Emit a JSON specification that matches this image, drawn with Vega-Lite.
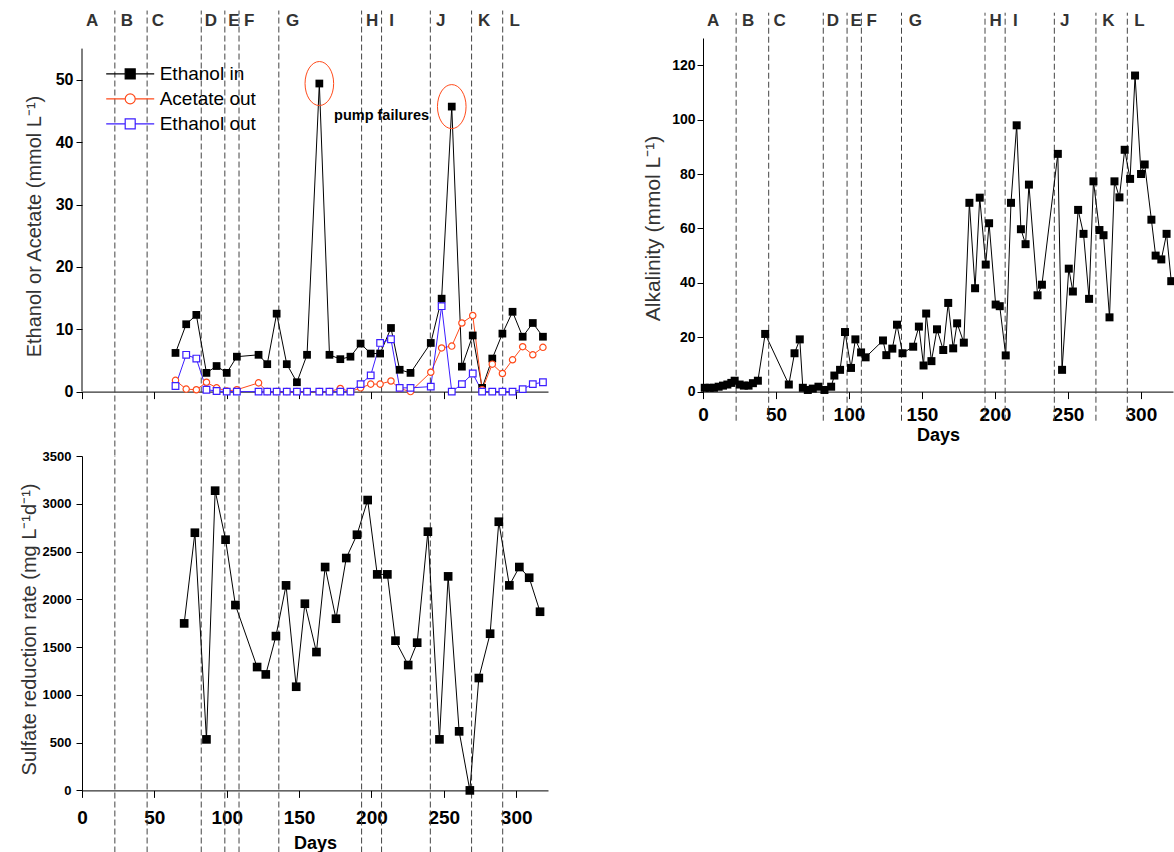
{
  "$schema": "https://vega.github.io/schema/vega-lite/v6.json",
  "background": "white",
  "padding": {"left": 19, "top": 10, "right": 0, "bottom": 0},
  "config": {
    "view": {"stroke": null},
    "font": "Liberation Sans",
    "axis": {"grid": false, "domainColor": "#000", "tickColor": "#000", "labelColor": "#000", "labelFont": "Liberation Sans", "labelFontWeight": "bold", "titleFont": "Liberation Sans", "titleFontWeight": "normal", "titleColor": "#333", "labelOverlap": false, "labelFlush": false, "domainWidth": 1, "tickWidth": 1}
  },
  "datasets": {
    "phases": [{"day": 22.7}, {"day": 45}, {"day": 82.4}, {"day": 98.7}, {"day": 108.5}, {"day": 136}, {"day": 193.2}, {"day": 207}, {"day": 240.7}, {"day": 269.2}, {"day": 290.7}],
    "letters": [{"label": "A", "mid": 7}, {"label": "B", "mid": 31}, {"label": "C", "mid": 52.5}, {"label": "D", "mid": 89}, {"label": "E", "mid": 105}, {"label": "F", "mid": 115.5}, {"label": "G", "mid": 145.5}, {"label": "H", "mid": 200.5}, {"label": "I", "mid": 214}, {"label": "J", "mid": 247.8}, {"label": "K", "mid": 277.8}, {"label": "L", "mid": 299}],
    "conc": [
      {"series": "Ethanol in", "day": 64.6, "value": 6.2}, {"series": "Ethanol in", "day": 72, "value": 10.8}, {"series": "Ethanol in", "day": 79, "value": 12.3}, {"series": "Ethanol in", "day": 86, "value": 3.0}, {"series": "Ethanol in", "day": 93, "value": 4.1}, {"series": "Ethanol in", "day": 100, "value": 3.0}, {"series": "Ethanol in", "day": 107, "value": 5.6}, {"series": "Ethanol in", "day": 122, "value": 5.9}, {"series": "Ethanol in", "day": 128, "value": 4.4}, {"series": "Ethanol in", "day": 134.5, "value": 12.5}, {"series": "Ethanol in", "day": 141.5, "value": 4.4}, {"series": "Ethanol in", "day": 148.5, "value": 1.5}, {"series": "Ethanol in", "day": 155.5, "value": 5.9}, {"series": "Ethanol in", "day": 164, "value": 49.4}, {"series": "Ethanol in", "day": 171, "value": 5.9}, {"series": "Ethanol in", "day": 178.5, "value": 5.2}, {"series": "Ethanol in", "day": 185.5, "value": 5.6}, {"series": "Ethanol in", "day": 192.5, "value": 7.7}, {"series": "Ethanol in", "day": 199.5, "value": 6.1}, {"series": "Ethanol in", "day": 206, "value": 6.1}, {"series": "Ethanol in", "day": 213.5, "value": 10.2}, {"series": "Ethanol in", "day": 219.5, "value": 3.5}, {"series": "Ethanol in", "day": 227, "value": 3.0}, {"series": "Ethanol in", "day": 241, "value": 7.8}, {"series": "Ethanol in", "day": 248.5, "value": 14.9}, {"series": "Ethanol in", "day": 255.5, "value": 45.7}, {"series": "Ethanol in", "day": 262.5, "value": 4.0}, {"series": "Ethanol in", "day": 270, "value": 9.0}, {"series": "Ethanol in", "day": 276.5, "value": 0.6}, {"series": "Ethanol in", "day": 283.5, "value": 5.3}, {"series": "Ethanol in", "day": 290.5, "value": 9.3}, {"series": "Ethanol in", "day": 297.5, "value": 12.8}, {"series": "Ethanol in", "day": 304.5, "value": 8.8}, {"series": "Ethanol in", "day": 311.5, "value": 11.0}, {"series": "Ethanol in", "day": 318.5, "value": 8.8},
      {"series": "Acetate out", "day": 64.6, "value": 1.8}, {"series": "Acetate out", "day": 72, "value": 0.4}, {"series": "Acetate out", "day": 79, "value": 0.3}, {"series": "Acetate out", "day": 86, "value": 1.5}, {"series": "Acetate out", "day": 93, "value": 0.6}, {"series": "Acetate out", "day": 100, "value": 0.1}, {"series": "Acetate out", "day": 107, "value": 0.3}, {"series": "Acetate out", "day": 122, "value": 1.4}, {"series": "Acetate out", "day": 128, "value": 0}, {"series": "Acetate out", "day": 134.5, "value": 0}, {"series": "Acetate out", "day": 141.5, "value": 0}, {"series": "Acetate out", "day": 148.5, "value": 0}, {"series": "Acetate out", "day": 155.5, "value": 0}, {"series": "Acetate out", "day": 164, "value": 0}, {"series": "Acetate out", "day": 171, "value": 0}, {"series": "Acetate out", "day": 178.5, "value": 0.5}, {"series": "Acetate out", "day": 185.5, "value": 0}, {"series": "Acetate out", "day": 192.5, "value": 0.6}, {"series": "Acetate out", "day": 199.5, "value": 1.2}, {"series": "Acetate out", "day": 206, "value": 1.2}, {"series": "Acetate out", "day": 213.5, "value": 1.7}, {"series": "Acetate out", "day": 219.5, "value": 0.5}, {"series": "Acetate out", "day": 227, "value": 0}, {"series": "Acetate out", "day": 241, "value": 3.1}, {"series": "Acetate out", "day": 248.5, "value": 7.0}, {"series": "Acetate out", "day": 255.5, "value": 7.3}, {"series": "Acetate out", "day": 262.5, "value": 11.0}, {"series": "Acetate out", "day": 270, "value": 12.2}, {"series": "Acetate out", "day": 276.5, "value": 0.3}, {"series": "Acetate out", "day": 283.5, "value": 4.4}, {"series": "Acetate out", "day": 290.5, "value": 2.9}, {"series": "Acetate out", "day": 297.5, "value": 5.1}, {"series": "Acetate out", "day": 304.5, "value": 7.2}, {"series": "Acetate out", "day": 311.5, "value": 5.9}, {"series": "Acetate out", "day": 318.5, "value": 7.1},
      {"series": "Ethanol out", "day": 64.6, "value": 0.9}, {"series": "Ethanol out", "day": 72, "value": 5.9}, {"series": "Ethanol out", "day": 79, "value": 5.3}, {"series": "Ethanol out", "day": 86, "value": 0.3}, {"series": "Ethanol out", "day": 93, "value": 0.1}, {"series": "Ethanol out", "day": 100, "value": 0}, {"series": "Ethanol out", "day": 107, "value": 0}, {"series": "Ethanol out", "day": 122, "value": 0}, {"series": "Ethanol out", "day": 128, "value": 0}, {"series": "Ethanol out", "day": 134.5, "value": 0}, {"series": "Ethanol out", "day": 141.5, "value": 0}, {"series": "Ethanol out", "day": 148.5, "value": 0}, {"series": "Ethanol out", "day": 155.5, "value": 0}, {"series": "Ethanol out", "day": 164, "value": 0}, {"series": "Ethanol out", "day": 171, "value": 0}, {"series": "Ethanol out", "day": 178.5, "value": 0}, {"series": "Ethanol out", "day": 185.5, "value": 0}, {"series": "Ethanol out", "day": 192.5, "value": 1.2}, {"series": "Ethanol out", "day": 199.5, "value": 2.6}, {"series": "Ethanol out", "day": 206, "value": 7.8}, {"series": "Ethanol out", "day": 213.5, "value": 8.4}, {"series": "Ethanol out", "day": 219.5, "value": 0.6}, {"series": "Ethanol out", "day": 227, "value": 0.6}, {"series": "Ethanol out", "day": 241, "value": 0.8}, {"series": "Ethanol out", "day": 248.5, "value": 13.7}, {"series": "Ethanol out", "day": 255.5, "value": 0}, {"series": "Ethanol out", "day": 262.5, "value": 1.2}, {"series": "Ethanol out", "day": 270, "value": 2.9}, {"series": "Ethanol out", "day": 276.5, "value": 0}, {"series": "Ethanol out", "day": 283.5, "value": 0}, {"series": "Ethanol out", "day": 290.5, "value": 0}, {"series": "Ethanol out", "day": 297.5, "value": 0}, {"series": "Ethanol out", "day": 304.5, "value": 0.4}, {"series": "Ethanol out", "day": 311.5, "value": 1.2}, {"series": "Ethanol out", "day": 318.5, "value": 1.5}
    ],
    "srr": [
      {"day": 70.6, "rate": 1748}, {"day": 78, "rate": 2697}, {"day": 86, "rate": 534}, {"day": 92, "rate": 3137}, {"day": 99.2, "rate": 2624}, {"day": 106, "rate": 1940}, {"day": 121, "rate": 1291}, {"day": 127, "rate": 1214}, {"day": 134, "rate": 1615}, {"day": 141, "rate": 2146}, {"day": 148, "rate": 1085}, {"day": 154, "rate": 1954}, {"day": 162, "rate": 1448}, {"day": 168, "rate": 2338}, {"day": 175.5, "rate": 1797}, {"day": 182.6, "rate": 2432}, {"day": 190, "rate": 2676}, {"day": 197.4, "rate": 3039}, {"day": 204, "rate": 2261}, {"day": 211, "rate": 2261}, {"day": 216.6, "rate": 1567}, {"day": 225.4, "rate": 1312}, {"day": 231.6, "rate": 1546}, {"day": 239, "rate": 2708}, {"day": 247, "rate": 534}, {"day": 253, "rate": 2240}, {"day": 260.6, "rate": 618}, {"day": 268, "rate": 0}, {"day": 274.2, "rate": 1176}, {"day": 282, "rate": 1640}, {"day": 288, "rate": 2812}, {"day": 295.3, "rate": 2146}, {"day": 302.2, "rate": 2338}, {"day": 309, "rate": 2226}, {"day": 316.5, "rate": 1870}
    ],
    "alk": [
      {"day": 1.2, "alk": 1.4}, {"day": 4.6, "alk": 1.4}, {"day": 7.5, "alk": 1.4}, {"day": 10.7, "alk": 1.8}, {"day": 13.7, "alk": 2.2}, {"day": 16.7, "alk": 2.6}, {"day": 19.4, "alk": 3.2}, {"day": 21.7, "alk": 4.0}, {"day": 25.1, "alk": 2.6}, {"day": 28, "alk": 2.2}, {"day": 31.2, "alk": 2.2}, {"day": 34.2, "alk": 3.1}, {"day": 37.6, "alk": 4.0}, {"day": 42.6, "alk": 21.2}, {"day": 58.8, "alk": 2.6}, {"day": 62.7, "alk": 14.1}, {"day": 66.3, "alk": 19.2}, {"day": 68.4, "alk": 1.4}, {"day": 71.8, "alk": 0.6}, {"day": 75.2, "alk": 1.1}, {"day": 79.1, "alk": 1.8}, {"day": 83.2, "alk": 0.6}, {"day": 87.8, "alk": 1.8}, {"day": 90, "alk": 5.9}, {"day": 93.9, "alk": 8.0}, {"day": 97.3, "alk": 21.9}, {"day": 101.4, "alk": 8.7}, {"day": 104.4, "alk": 19.2}, {"day": 108.3, "alk": 14.4}, {"day": 111.4, "alk": 12.6}, {"day": 123.3, "alk": 18.8}, {"day": 125.6, "alk": 13.4}, {"day": 129.7, "alk": 15.8}, {"day": 132.9, "alk": 24.6}, {"day": 136.7, "alk": 14.1}, {"day": 144, "alk": 16.5}, {"day": 147.9, "alk": 23.9}, {"day": 151.1, "alk": 9.6}, {"day": 152.9, "alk": 28.7}, {"day": 156.5, "alk": 11.2}, {"day": 160.3, "alk": 22.9}, {"day": 164.6, "alk": 15.3}, {"day": 168, "alk": 32.6}, {"day": 171.4, "alk": 15.9}, {"day": 174.1, "alk": 25.1}, {"day": 178.7, "alk": 18.0}, {"day": 182.5, "alk": 69.4}, {"day": 186.4, "alk": 38.0}, {"day": 189.6, "alk": 71.3}, {"day": 193.7, "alk": 46.7}, {"day": 196, "alk": 61.9}, {"day": 200.5, "alk": 32.0}, {"day": 203.3, "alk": 31.4}, {"day": 207.4, "alk": 13.3}, {"day": 211, "alk": 69.4}, {"day": 214.9, "alk": 97.9}, {"day": 217.8, "alk": 59.7}, {"day": 221, "alk": 54.2}, {"day": 223.3, "alk": 76.1}, {"day": 229.2, "alk": 35.4}, {"day": 232.2, "alk": 39.3}, {"day": 243.1, "alk": 87.4}, {"day": 246, "alk": 8.0}, {"day": 250.6, "alk": 45.2}, {"day": 253.4, "alk": 36.8}, {"day": 257, "alk": 66.8}, {"day": 260.7, "alk": 58.0}, {"day": 264.5, "alk": 34.1}, {"day": 267.5, "alk": 77.3}, {"day": 271.6, "alk": 59.4}, {"day": 274.4, "alk": 57.5}, {"day": 278.5, "alk": 27.3}, {"day": 281.9, "alk": 77.3}, {"day": 285.3, "alk": 71.4}, {"day": 288.9, "alk": 88.9}, {"day": 292.6, "alk": 78.2}, {"day": 296, "alk": 116.2}, {"day": 300.1, "alk": 80.0}, {"day": 302.6, "alk": 83.5}, {"day": 307.2, "alk": 63.2}, {"day": 310.1, "alk": 50.0}, {"day": 314, "alk": 48.6}, {"day": 317.6, "alk": 58.0}, {"day": 320.8, "alk": 40.6}
    ]
  },
  "spacing": 93,
  "hconcat": [
    {
      "vconcat": [
        {
          "width": 466,
          "height": 353.6,
          "layer": [
            {
              "data": {"name": "phases"},
              "mark": {"type": "rule", "strokeDash": [6, 3], "color": "#444", "strokeWidth": 1},
              "encoding": {
                "x": {"field": "day", "type": "quantitative", "scale": {"domain": [0, 322]}},
                "y": {"datum": -10.25, "type": "quantitative", "scale": {"domain": [0, 56.7]}},
                "y2": {"datum": 61.1}
              }
            },
            {
              "data": {"values": [{}]},
              "mark": {"type": "rule", "color": "#000", "strokeWidth": 1},
              "encoding": {
                "x": {"datum": 0, "type": "quantitative", "scale": {"domain": [0, 322]}},
                "y": {"datum": 0, "type": "quantitative", "scale": {"domain": [0, 56.7]}},
                "y2": {"datum": 55}
              }
            },
            {
              "data": {"name": "letters"},
              "mark": {"type": "text", "font": "Liberation Sans", "fontWeight": "bold", "fontSize": 17, "color": "#333", "align": "center", "baseline": "middle"},
              "encoding": {
                "x": {"field": "mid", "type": "quantitative", "scale": {"domain": [0, 322]}},
                "y": {"datum": 59.4, "type": "quantitative", "scale": {"domain": [0, 56.7]}},
                "text": {"field": "label"}
              }
            },
            {
              "data": {"name": "conc"},
              "mark": {"type": "line", "strokeWidth": 1},
              "encoding": {
                "x": {"field": "day", "type": "quantitative", "scale": {"domain": [0, 322]},
                  "axis": {"title": null, "labels": false, "values": [0, 25, 50, 75, 100, 125, 150, 175, 200, 225, 250, 275, 300], "tickSize": {"condition": {"test": "datum.value % 50 === 0", "value": 7}, "value": 4}}},
                "y": {"field": "value", "type": "quantitative", "scale": {"domain": [0, 56.7]},
                  "axis": {"title": "Ethanol or Acetate (mmol L⁻¹)", "titleFontSize": 20, "titlePadding": 11, "titleY": 188, "domain": false, "values": [0, 5, 10, 15, 20, 25, 30, 35, 40, 45, 50, 55], "labelExpr": "datum.value % 10 === 0 ? datum.label : ''", "labelFontSize": 16, "labelPadding": 3, "tickSize": {"condition": {"test": "datum.value % 10 === 0", "value": 6}, "value": 4}}},
                "color": {"field": "series", "type": "nominal",
                  "scale": {"domain": ["Ethanol in", "Acetate out", "Ethanol out"], "range": ["#000000", "#ff4a1a", "#3c1eff"]},
                  "legend": {"orient": "none", "legendX": 38.7, "legendY": 26.4, "title": null, "padding": 0, "labelFont": "Liberation Sans", "labelFontSize": 19, "labelColor": "#000", "labelOffset": 20, "labelLimit": 0, "rowPadding": 5, "symbolSize": 100, "symbolStrokeWidth": 1.2,
                    "symbolType": "M-4.8,0H-1M1,0H4.8M-1,-1H1V1H-1Z",
                    "encode": {"symbols": {"update": {
                      "shape": {"signal": "datum.value === 'Acetate out' ? 'M-4.8,0H-1M1,0H4.8M1,0A1,1 0 1,1 -1,0A1,1 0 1,1 1,0Z' : 'M-4.8,0H-1M1,0H4.8M-1,-1H1V1H-1Z'"},
                      "fill": {"signal": "datum.value === 'Ethanol in' ? '#000000' : '#ffffff'"},
                      "stroke": {"signal": "datum.value === 'Ethanol in' ? '#000000' : datum.value === 'Acetate out' ? '#ff4a1a' : '#3c1eff'"},
                      "opacity": {"value": 1}
                    }}}
                  }}
              }
            },
            {
              "data": {"name": "conc"},
              "transform": [{"filter": "datum.series === 'Ethanol in'"}],
              "mark": {"type": "point", "shape": "square", "filled": true, "color": "#000", "size": 60, "opacity": 1},
              "encoding": {
                "x": {"field": "day", "type": "quantitative", "scale": {"domain": [0, 322]}},
                "y": {"field": "value", "type": "quantitative", "scale": {"domain": [0, 56.7]}}
              }
            },
            {
              "data": {"name": "conc"},
              "transform": [{"filter": "datum.series === 'Acetate out'"}],
              "mark": {"type": "point", "shape": "circle", "filled": false, "fill": "#fff", "stroke": "#ff4a1a", "strokeWidth": 1.2, "size": 40, "opacity": 1},
              "encoding": {
                "x": {"field": "day", "type": "quantitative", "scale": {"domain": [0, 322]}},
                "y": {"field": "value", "type": "quantitative", "scale": {"domain": [0, 56.7]}}
              }
            },
            {
              "data": {"name": "conc"},
              "transform": [{"filter": "datum.series === 'Ethanol out'"}],
              "mark": {"type": "point", "shape": "square", "filled": false, "fill": "#fff", "stroke": "#3c1eff", "strokeWidth": 1.2, "size": 44, "opacity": 1},
              "encoding": {
                "x": {"field": "day", "type": "quantitative", "scale": {"domain": [0, 322]}},
                "y": {"field": "value", "type": "quantitative", "scale": {"domain": [0, 56.7]}}
              }
            },
            {
              "data": {"name": "conc"},
              "transform": [{"filter": "datum.series === 'Ethanol in' && datum.value > 40"}],
              "mark": {"type": "point", "shape": "M0,-1A0.65,1 0 1,1 0,1A0.65,1 0 1,1 0,-1Z", "size": 1936, "stroke": "#ff4a1a", "strokeWidth": 1, "fill": "transparent", "filled": false, "opacity": 1},
              "encoding": {
                "x": {"field": "day", "type": "quantitative", "scale": {"domain": [0, 322]}},
                "y": {"field": "value", "type": "quantitative", "scale": {"domain": [0, 56.7]}}
              }
            },
            {
              "data": {"values": [{}]},
              "mark": {"type": "text", "font": "Liberation Sans", "fontWeight": "bold", "fontSize": 14.5, "color": "#000", "align": "center", "baseline": "middle"},
              "encoding": {
                "x": {"datum": 207, "type": "quantitative", "scale": {"domain": [0, 322]}},
                "y": {"datum": 44.2, "type": "quantitative", "scale": {"domain": [0, 56.7]}},
                "text": {"value": "pump failures"}
              }
            }
          ]
        },
        {
          "width": 466,
          "height": 334.4,
          "layer": [
            {
              "data": {"name": "phases"},
              "mark": {"type": "rule", "strokeDash": [6, 3], "color": "#444", "strokeWidth": 1},
              "encoding": {
                "x": {"field": "day", "type": "quantitative", "scale": {"domain": [0, 322]}},
                "y": {"datum": -650, "type": "quantitative", "scale": {"domain": [0, 3500]}},
                "y2": {"datum": 3500}
              }
            },
            {
              "data": {"name": "srr"},
              "mark": {"type": "line", "strokeWidth": 1, "color": "#000"},
              "encoding": {
                "x": {"field": "day", "type": "quantitative", "scale": {"domain": [0, 322]},
                  "axis": {"title": "Days", "titleFontWeight": "bold", "titleFontSize": 18, "titleColor": "#000", "titlePadding": 7, "values": [0, 25, 50, 75, 100, 125, 150, 175, 200, 225, 250, 275, 300], "labelExpr": "datum.value % 50 === 0 ? datum.label : ''", "labelFontSize": 19, "labelPadding": 11, "tickSize": {"condition": {"test": "datum.value % 50 === 0", "value": 7}, "value": 4}}},
                "y": {"field": "rate", "type": "quantitative", "scale": {"domain": [0, 3500]},
                  "axis": {"title": "Sulfate reduction rate (mg L⁻¹d⁻¹)", "titleFontSize": 20, "titlePadding": 3, "titleY": 173, "values": [0, 250, 500, 750, 1000, 1250, 1500, 1750, 2000, 2250, 2500, 2750, 3000, 3250, 3500], "labelExpr": "datum.value % 500 === 0 ? datum.value : ''", "labelFontSize": 13, "labelPadding": 5, "tickSize": {"condition": {"test": "datum.value % 500 === 0", "value": 6}, "value": 4}}}
              }
            },
            {
              "data": {"name": "srr"},
              "mark": {"type": "point", "shape": "square", "filled": true, "size": 75, "color": "#000", "opacity": 1},
              "encoding": {
                "x": {"field": "day", "type": "quantitative", "scale": {"domain": [0, 322]}},
                "y": {"field": "rate", "type": "quantitative", "scale": {"domain": [0, 3500]}}
              }
            }
          ]
        }
      ],
      "spacing": 64,
      "bounds": "flush"
    },
    {
      "vconcat": [
        {
          "width": 470,
          "height": 353.6,
          "layer": [
            {
              "data": {"name": "phases"},
              "mark": {"type": "rule", "strokeDash": [6, 3], "color": "#444", "strokeWidth": 1},
              "encoding": {
                "x": {"field": "day", "type": "quantitative", "scale": {"domain": [0, 322]}},
                "y": {"datum": -10.7, "type": "quantitative", "scale": {"domain": [0, 130]}},
                "y2": {"datum": 139.3}
              }
            },
            {
              "data": {"name": "letters"},
              "mark": {"type": "text", "font": "Liberation Sans", "fontWeight": "bold", "fontSize": 17, "color": "#333", "align": "center", "baseline": "middle"},
              "encoding": {
                "x": {"field": "mid", "type": "quantitative", "scale": {"domain": [0, 322]}},
                "y": {"datum": 136.1, "type": "quantitative", "scale": {"domain": [0, 130]}},
                "text": {"field": "label"}
              }
            },
            {
              "data": {"name": "alk"},
              "mark": {"type": "line", "strokeWidth": 1, "color": "#000"},
              "encoding": {
                "x": {"field": "day", "type": "quantitative", "scale": {"domain": [0, 322]},
                  "axis": {"title": "Days", "titleFontWeight": "bold", "titleFontSize": 18, "titleColor": "#000", "titlePadding": 2, "values": [0, 25, 50, 75, 100, 125, 150, 175, 200, 225, 250, 275, 300], "labelExpr": "datum.value % 50 === 0 ? datum.label : ''", "labelFontSize": 19, "labelPadding": 7, "tickSize": {"condition": {"test": "datum.value % 50 === 0", "value": 7}, "value": 4}}},
                "y": {"field": "alk", "type": "quantitative", "scale": {"domain": [0, 130]},
                  "axis": {"title": "Alkalinity (mmol L⁻¹)", "titleFontSize": 21, "titlePadding": 8, "titleY": 190, "values": [0, 10, 20, 30, 40, 50, 60, 70, 80, 90, 100, 110, 120, 130], "labelExpr": "datum.value % 20 === 0 ? datum.label : ''", "labelFontSize": 14, "labelPadding": 2, "tickSize": {"condition": {"test": "datum.value % 20 === 0", "value": 6}, "value": 4}}}
              }
            },
            {
              "data": {"name": "alk"},
              "mark": {"type": "point", "shape": "square", "filled": true, "size": 64, "color": "#000", "opacity": 1},
              "encoding": {
                "x": {"field": "day", "type": "quantitative", "scale": {"domain": [0, 322]}},
                "y": {"field": "alk", "type": "quantitative", "scale": {"domain": [0, 130]}}
              }
            }
          ]
        }
      ]
    }
  ]
}
